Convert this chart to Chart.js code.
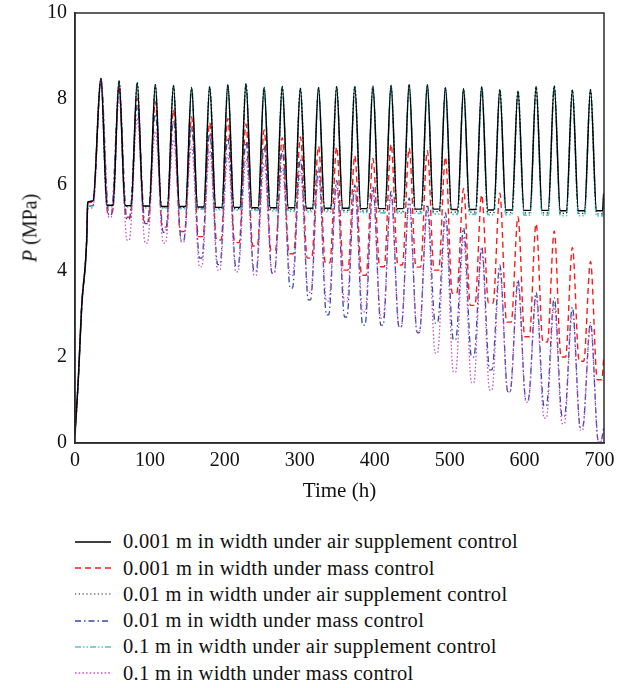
<!DOCTYPE html>
<html>
<head>
<meta charset="utf-8">
<script src="https://cdn.jsdelivr.net/npm/chart.js@4/dist/chart.umd.min.js"></script>
<style>
  html, body { margin: 0; padding: 0; background: #fff; }
  body { width: 634px; height: 688px; position: relative; overflow: hidden; font-family: "Liberation Serif", "Times New Roman", serif; color: #111; }
  #plot { position: absolute; left: 0; top: 0; }
  #ytitle { position: absolute; left: 30px; top: 228px; transform: translate(-50%, -50%) rotate(-90deg); font-size: 20px; white-space: nowrap; }
  #legend { position: absolute; left: 0; top: 0; width: 634px; }
  .row { position: absolute; left: 75px; height: 26px; display: flex; align-items: center; font-size: 20.5px; letter-spacing: 0.3px; white-space: nowrap; transform: translateY(-50%); }
  .row svg { width: 36px; height: 10px; margin-right: 12px; flex: none; }
</style>
</head>
<body>
<canvas id="plot" width="634" height="510"></canvas>
<div id="ytitle"><i>P</i> (MPa)</div>
<div id="legend"></div>
<script>
// Time axis (h) and pressure axis (MPa) tick values
const timeTicks = [0, 100, 200, 300, 400, 500, 600, 700];
const pressureTicks = [0, 2, 4, 6, 8, 10];

// Initial charging ramp, shared time stamps (h)
const rampHours = [0, 4.4, 8.9, 15.6, 17, 24];
const rampAir = [0.2, 1.47, 3.17, 4.72, 5.6, 5.63];
const rampMass001 = [0.2, 1.47, 3.17, 4.72, 5.58, 5.6];
const rampMass01 = [0.2, 1.47, 3.17, 4.72, 5.5, 5.52];
const rampMass1 = [0.2, 1.47, 3.17, 4.72, 5.45, 5.47];

// Daily cycle: time of each pressure peak and of the following pressure minimum (h)
const peakHours = [34.6, 58.8, 83.0, 107.2, 131.4, 155.6, 179.8, 204.0, 228.2, 252.4, 276.6, 300.8, 325.0, 349.2,
  373.4, 397.6, 421.8, 446.0, 470.2, 494.4, 518.6, 542.8, 567.0, 591.2, 615.4, 639.6, 663.8, 688.0];
const troughHours = [46.7, 70.9, 95.1, 119.3, 143.5, 167.7, 191.9, 216.1, 240.3, 264.5, 288.7, 312.9, 337.1, 361.3,
  385.5, 409.7, 433.9, 458.1, 482.3, 506.5, 530.7, 554.9, 579.1, 603.3, 627.5, 651.7, 675.9, 700.1];
const endHour = 705.5;

// 0.001 m, air supplement control
const airPeaks001 = [8.48, 8.43, 8.38, 8.34, 8.32, 8.27, 8.29, 8.33, 8.36, 8.27, 8.30, 8.25, 8.27, 8.29, 8.29, 8.30, 8.32, 8.34, 8.34, 8.27, 8.24, 8.29, 8.22, 8.19, 8.29, 8.31, 8.21, 8.22];
const airTroughs001 = [5.53, 5.52, 5.51, 5.50, 5.50, 5.49, 5.48, 5.48, 5.47, 5.47, 5.47, 5.46, 5.46, 5.46, 5.45, 5.45, 5.45, 5.44, 5.44, 5.43, 5.43, 5.42, 5.42, 5.41, 5.41, 5.40, 5.40, 5.40];
// 0.01 m, air supplement control
const airPeaks01 = [8.47, 8.42, 8.38, 8.33, 8.31, 8.27, 8.28, 8.32, 8.35, 8.27, 8.29, 8.25, 8.27, 8.28, 8.28, 8.30, 8.31, 8.33, 8.33, 8.26, 8.24, 8.28, 8.22, 8.19, 8.28, 8.30, 8.21, 8.21];
const airTroughs01 = [5.52, 5.51, 5.50, 5.49, 5.48, 5.47, 5.46, 5.45, 5.44, 5.44, 5.43, 5.42, 5.42, 5.41, 5.40, 5.40, 5.39, 5.39, 5.38, 5.37, 5.37, 5.36, 5.36, 5.35, 5.35, 5.34, 5.34, 5.33];
// 0.1 m, air supplement control
const airPeaks1 = [8.46, 8.41, 8.37, 8.33, 8.30, 8.26, 8.28, 8.32, 8.35, 8.26, 8.29, 8.24, 8.26, 8.28, 8.28, 8.29, 8.31, 8.33, 8.33, 8.26, 8.23, 8.28, 8.21, 8.18, 8.28, 8.30, 8.20, 8.21];
const airTroughs1 = [5.50, 5.49, 5.47, 5.46, 5.45, 5.44, 5.43, 5.42, 5.41, 5.40, 5.39, 5.38, 5.38, 5.37, 5.36, 5.35, 5.35, 5.34, 5.33, 5.32, 5.32, 5.31, 5.31, 5.30, 5.30, 5.29, 5.29, 5.28];
// 0.001 m, mass control
const massPeaks001 = [8.48, 8.30, 8.02, 7.94, 7.75, 7.58, 7.45, 7.55, 7.42, 7.28, 7.10, 7.12, 6.90, 6.88, 6.68, 6.62, 6.95, 6.86, 6.80, 6.65, 5.92, 5.77, 5.81, 5.26, 5.10, 4.93, 4.55, 4.22];
const massTroughs001 = [5.35, 5.25, 5.15, 5.02, 4.92, 4.80, 4.72, 4.66, 4.58, 4.48, 4.40, 4.30, 4.19, 4.02, 3.90, 4.10, 4.14, 4.09, 4.02, 3.48, 3.20, 3.25, 2.81, 2.47, 2.35, 2.00, 1.90, 1.47];
// 0.01 m, mass control
const massPeaks01 = [8.46, 8.20, 7.85, 7.65, 7.50, 7.35, 7.20, 7.10, 7.00, 6.90, 6.80, 6.60, 6.40, 6.10, 6.00, 5.95, 5.85, 5.70, 5.55, 5.35, 5.00, 4.56, 4.14, 3.79, 3.50, 3.38, 3.16, 2.80];
const massTroughs01 = [5.30, 5.20, 5.10, 4.90, 4.70, 4.30, 4.15, 4.10, 4.00, 3.95, 3.60, 3.33, 2.98, 2.93, 2.74, 2.74, 2.70, 2.57, 2.79, 2.40, 2.00, 1.70, 1.19, 1.00, 0.86, 0.62, 0.36, 0.02];
// 0.1 m, mass control
const massPeaks1 = [8.44, 8.00, 7.55, 7.25, 7.05, 6.90, 6.80, 6.70, 6.60, 6.50, 6.40, 6.30, 6.20, 5.95, 5.90, 5.88, 5.75, 5.58, 5.40, 5.20, 4.80, 4.50, 4.00, 3.70, 3.40, 3.20, 3.05, 2.75];
const massTroughs1 = [5.25, 4.72, 4.65, 4.65, 4.67, 4.10, 4.02, 3.98, 3.90, 3.95, 3.90, 3.50, 3.30, 3.28, 3.05, 2.90, 2.70, 2.56, 2.09, 1.65, 1.40, 1.23, 1.19, 0.95, 0.58, 0.45, 0.30, 0.02];

// Pressure at the end of the record (h = endHour)
const endAir = [5.80, 5.75, 5.72];
const endMass = [1.95, 0.35, 0.30];

const labels = [
  '0.001 m in width under air supplement control',
  '0.001 m in width under mass control',
  '0.01 m in width under air supplement control',
  '0.01 m in width under mass control',
  '0.1 m in width under air supplement control',
  '0.1 m in width under mass control'
];

// Assemble one pressure history: charging ramp, then peak / minimum plateau per cycle
function history(ramp, peaks, troughs, holdHours, endValue) {
  const pts = rampHours.map((h, i) => ({ x: h, y: ramp[i] }));
  peaks.forEach((p, k) => {
    pts.push({ x: peakHours[k], y: p });
    pts.push({ x: troughHours[k] - holdHours, y: troughs[k] });
    pts.push({ x: troughHours[k] + holdHours, y: troughs[k] });
  });
  pts.push({ x: endHour, y: endValue });
  return pts;
}

const styles = [
  { color: '#000000', width: 1.4, dash: [] },
  { color: '#ff1a1a', width: 1.4, dash: [6, 4] },
  { color: '#1a1a1a', width: 1.2, dash: [1.2, 2.6] },
  { color: '#3548a8', width: 1.3, dash: [6, 3, 1.5, 3] },
  { color: '#55c3cc', width: 1.8, dash: [6, 2, 1.5, 2, 1.5, 2] },
  { color: '#c24fc4', width: 1.3, dash: [1.5, 2.2] }
];

const seriesData = [
  history(rampAir, airPeaks001, airTroughs001, 4, endAir[0]),
  history(rampMass001, massPeaks001, massTroughs001, 3, endMass[0]),
  history(rampAir, airPeaks01, airTroughs01, 4, endAir[1]),
  history(rampMass01, massPeaks01, massTroughs01, 1.5, endMass[1]),
  history(rampAir, airPeaks1, airTroughs1, 4, endAir[2]),
  history(rampMass1, massPeaks1, massTroughs1, 1.5, endMass[2])
];

// Draw order: mass-control curves first, air-supplement on top, solid black last
const drawOrder = [1, 5, 3, 4, 6, 2];

const datasets = seriesData.map((d, i) => ({
  label: labels[i],
  data: d,
  borderColor: styles[i].color,
  borderWidth: styles[i].width,
  borderDash: styles[i].dash,
  pointRadius: 0,
  fill: false,
  cubicInterpolationMode: 'monotone',
  order: drawOrder[i]
}));

// Closed box around the plotting area
const frame = {
  id: 'frame',
  afterDraw(chart) {
    const { ctx, chartArea: a } = chart;
    ctx.save();
    ctx.strokeStyle = '#2b2b2b';
    ctx.lineWidth = 1.5;
    ctx.strokeRect(a.left, a.top, a.right - a.left, a.bottom - a.top);
    ctx.restore();
  }
};

const fontFamily = '"Liberation Serif", "Times New Roman", serif';

new Chart(document.getElementById('plot'), {
  type: 'line',
  data: { datasets },
  plugins: [frame],
  options: {
    responsive: false,
    animation: false,
    events: [],
    layout: { padding: { left: 0, right: 30, top: 13, bottom: 0 } },
    plugins: { legend: { display: false }, tooltip: { enabled: false } },
    scales: {
      x: {
        type: 'linear', min: 0, max: 706,
        grid: { display: false, drawTicks: false },
        border: { display: true, color: '#2b2b2b', width: 1.5 },
        ticks: { color: '#111', font: { family: fontFamily, size: 20 }, padding: 6, maxRotation: 0, autoSkip: false },
        afterBuildTicks: s => { s.ticks = timeTicks.map(v => ({ value: v })); },
        afterFit: s => { s.height = 67; s.paddingLeft = 0; s.paddingRight = 0; },
        title: { display: true, text: 'Time (h)', color: '#111', font: { family: fontFamily, size: 21 }, padding: { top: 2, bottom: 6 } }
      },
      y: {
        type: 'linear', min: 0, max: 10,
        grid: { display: false, drawTicks: false },
        border: { display: true, color: '#2b2b2b', width: 1.5 },
        ticks: { color: '#111', font: { family: fontFamily, size: 20 }, padding: 8 },
        afterBuildTicks: s => { s.ticks = pressureTicks.map(v => ({ value: v })); },
        afterFit: s => { s.width = 75; s.paddingTop = 0; s.paddingBottom = 0; }
      }
    }
  }
});

// Legend below the plot, one entry per row
const legend = document.getElementById('legend');
labels.forEach((text, i) => {
  const row = document.createElement('div');
  row.className = 'row';
  row.style.top = (541.7 + 26.3 * i) + 'px';
  const st = styles[i];
  const dash = st.dash.length ? st.dash.join(' ') : 'none';
  row.innerHTML = '<svg viewBox="0 0 36 10"><line x1="0" y1="5" x2="36" y2="5" stroke="' + st.color +
    '" stroke-width="' + Math.min(st.width, 1.4) + '" stroke-dasharray="' + dash + '"/></svg><span></span>';
  row.querySelector('span').textContent = text;
  legend.appendChild(row);
});
</script>
</body>
</html>
